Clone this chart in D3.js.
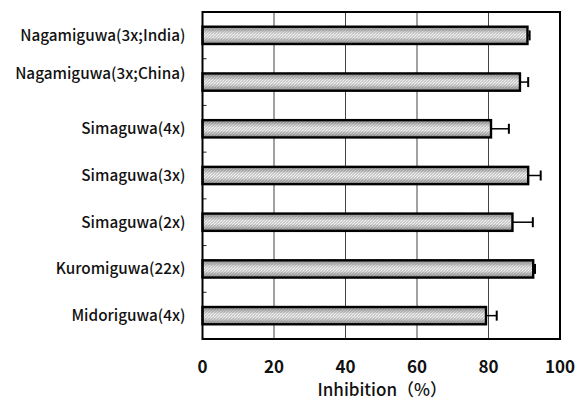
<!DOCTYPE html>
<html>
<head>
<meta charset="utf-8">
<script src="https://cdn.jsdelivr.net/npm/d3@7"></script>
<style>
  body { margin: 0; background: #fff; }
  svg { display: block; }
  .cat-label { font-family: "Noto Sans CJK JP", "Noto Sans", sans-serif; font-size: 15.3px; font-weight: 500; fill: #111; }
  .tick-label { font-family: "Noto Sans CJK JP", "Noto Sans", sans-serif; font-size: 17px; font-weight: 700; fill: #111; }
  .axis-title { font-family: "Noto Sans CJK JP", "Noto Sans", sans-serif; font-size: 17px; font-weight: 500; fill: #111; }
</style>
</head>
<body>
<div id="chart"></div>
<script>
// data, top to bottom
var categories = ['Nagamiguwa(3x;India)', 'Nagamiguwa(3x;China)', 'Simaguwa(4x)', 'Simaguwa(3x)',
    'Simaguwa(2x)', 'Kuromiguwa(22x)', 'Midoriguwa(4x)'];
var inhibition = [90.9, 88.8, 80.7, 91.1, 86.7, 92.5, 79.3];
var errors = [0.6, 2.3, 5.0, 3.5, 5.7, 0.5, 3.0];
var xTicks = [0, 20, 40, 60, 80, 100];
var xTitle = 'Inhibition（%）';

var width = 578, height = 406;
var margin = { top: 12, right: 18, bottom: 67, left: 202.5 };
var plotW = width - margin.left - margin.right;
var plotH = height - margin.top - margin.bottom;

var svg = d3.select('#chart').append('svg')
    .attr('width', width)
    .attr('height', height);

// shaded, stippled fill for the bars
var defs = svg.append('defs');
var grad = defs.append('linearGradient')
    .attr('id', 'shade')
    .attr('x1', 0).attr('y1', 0).attr('x2', 0).attr('y2', 1);
grad.append('stop').attr('offset', '0%').attr('stop-color', '#8c8c8c');
grad.append('stop').attr('offset', '40%').attr('stop-color', '#f2f2f2');
grad.append('stop').attr('offset', '60%').attr('stop-color', '#f2f2f2');
grad.append('stop').attr('offset', '100%').attr('stop-color', '#8c8c8c');

var pat = defs.append('pattern')
    .attr('id', 'stipple')
    .attr('width', 3).attr('height', 3)
    .attr('patternUnits', 'userSpaceOnUse');
pat.append('rect').attr('x', 0).attr('y', 0).attr('width', 1).attr('height', 1).attr('fill', '#555');
pat.append('rect').attr('x', 2).attr('y', 1).attr('width', 1).attr('height', 1).attr('fill', '#777');
pat.append('rect').attr('x', 1).attr('y', 2).attr('width', 1).attr('height', 1).attr('fill', '#666');

var g = svg.append('g')
    .attr('transform', 'translate(' + margin.left + ',' + margin.top + ')');

var x = d3.scaleLinear().domain([0, 100]).range([0, plotW]);
var y = d3.scaleBand().domain(categories).range([0, plotH]).paddingInner(0.63).paddingOuter(0.315);
var yBand = d3.scaleBand().domain(categories).range([0, plotH]);

// vertical grid lines
g.append('g')
    .selectAll('line')
    .data(xTicks.slice(1, -1))
    .enter()
    .append('line')
    .attr('x1', function (d) { return x(d); })
    .attr('x2', function (d) { return x(d); })
    .attr('y1', 0)
    .attr('y2', plotH)
    .attr('stroke', '#444')
    .attr('stroke-width', 1);

// small ticks on the left axis between categories
g.append('g')
    .selectAll('line')
    .data(categories.slice(1))
    .enter()
    .append('line')
    .attr('x1', 0)
    .attr('x2', 4)
    .attr('y1', function (d) { return yBand(d); })
    .attr('y2', function (d) { return yBand(d); })
    .attr('stroke', '#222')
    .attr('stroke-width', 1);

// bars
var bars = g.append('g')
    .selectAll('g')
    .data(categories)
    .enter()
    .append('g');
bars.append('rect')
    .attr('x', x(0))
    .attr('y', function (d) { return y(d); })
    .attr('width', function (d, i) { return x(inhibition[i]) - x(0); })
    .attr('height', y.bandwidth())
    .attr('fill', 'url(#shade)');
bars.append('rect')
    .attr('x', x(0))
    .attr('y', function (d) { return y(d); })
    .attr('width', function (d, i) { return x(inhibition[i]) - x(0); })
    .attr('height', y.bandwidth())
    .attr('fill', 'url(#stipple)')
    .attr('fill-opacity', 0.55)
    .attr('stroke', '#000')
    .attr('stroke-width', 2.4);

// error bars (positive side only)
var err = g.append('g').selectAll('g')
    .data(categories)
    .enter()
    .append('g');
err.append('line')
    .attr('x1', function (d, i) { return x(inhibition[i]); })
    .attr('x2', function (d, i) { return x(inhibition[i] + errors[i]); })
    .attr('y1', function (d) { return y(d) + y.bandwidth() / 2; })
    .attr('y2', function (d) { return y(d) + y.bandwidth() / 2; })
    .attr('stroke', '#000')
    .attr('stroke-width', 1.5);
err.append('line')
    .attr('x1', function (d, i) { return x(inhibition[i] + errors[i]); })
    .attr('x2', function (d, i) { return x(inhibition[i] + errors[i]); })
    .attr('y1', function (d) { return y(d) + y.bandwidth() / 2 - 5; })
    .attr('y2', function (d) { return y(d) + y.bandwidth() / 2 + 5; })
    .attr('stroke', '#000')
    .attr('stroke-width', 2);

// plot frame
g.append('rect')
    .attr('x', 0).attr('y', 0)
    .attr('width', plotW).attr('height', plotH)
    .attr('fill', 'none')
    .attr('stroke', '#000')
    .attr('stroke-width', 2);

// category labels (the China label sits a little high in the original)
g.append('g')
    .selectAll('text')
    .data(categories)
    .enter()
    .append('text')
    .attr('class', 'cat-label')
    .attr('x', -17)
    .attr('y', function (d, i) { return yBand(d) + yBand.bandwidth() / 2 + (i === 1 ? -9 : 0); })
    .attr('dy', '0.36em')
    .attr('text-anchor', 'end')
    .text(function (d) { return d; });

// x tick labels
g.append('g')
    .selectAll('text')
    .data(xTicks)
    .enter()
    .append('text')
    .attr('class', 'tick-label')
    .attr('x', function (d) { return x(d); })
    .attr('y', plotH + 34)
    .attr('text-anchor', 'middle')
    .text(function (d) { return d; });

// x title
g.append('text')
    .attr('class', 'axis-title')
    .attr('x', plotW / 2 + 1)
    .attr('y', plotH + 57)
    .attr('text-anchor', 'middle')
    .text(xTitle);
</script>
</body>
</html>
